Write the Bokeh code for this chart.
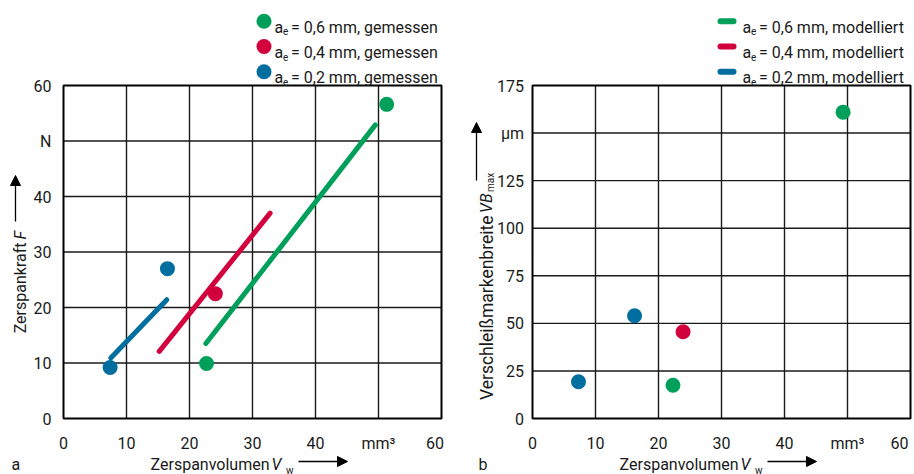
from bokeh.plotting import figure
from bokeh.layouts import row
from bokeh.models import Range1d, Label, Arrow, NormalHead
from bokeh.core.properties import value
from bokeh.embed import file_html
from bokeh.resources import INLINE

# ---------------- data ----------------
x_ticks = [0, 10, 20, 30, 40, 50, 60]
x_tick_overrides = {50: "mm³"}
F_ticks = [0, 10, 20, 30, 40, 50, 60]
F_tick_overrides = {50: "N"}
VB_ticks = [0, 25, 50, 75, 100, 125, 150, 175]
VB_tick_overrides = {150: "µm"}

series = ["0,6", "0,4", "0,2"]
colors = {"0,6": "#00a05a", "0,4": "#d2003c", "0,2": "#006e9e"}

# measured cutting force (panel a)
Vw_meas_F = {"0,6": [22.7, 51.3], "0,4": [24.1], "0,2": [7.4, 16.5]}
F_meas = {"0,6": [9.9, 56.6], "0,4": [22.5], "0,2": [9.2, 27.0]}
# modelled cutting force (panel a)
Vw_mod_F = {"0,6": [22.6, 49.5], "0,4": [15.2, 32.8], "0,2": [7.5, 16.4]}
F_mod = {"0,6": [13.5, 52.9], "0,4": [12.1, 37.0], "0,2": [10.9, 21.4]}
# measured flank wear (panel b)
Vw_meas_VB = {"0,6": [22.3, 49.3], "0,4": [23.9], "0,2": [7.3, 16.2]}
VB_meas = {"0,6": [17.5, 161.0], "0,4": [45.6], "0,2": [19.3, 54.0]}

FONT = "Roboto"
FS = "16px"
TXT = "#1a1a1a"
H = 474

# chart box in page pixels
BOX_TOP, BOX_BOTTOM = 85, 418


class Panel:
    def __init__(self, page_x0, width, box_left, y_end):
        self.box_left = box_left
        self.kx = 378 / 60.0
        self.ky = (BOX_BOTTOM - BOX_TOP) / y_end
        x0, _ = self.conv(page_x0, 0)
        x1, _ = self.conv(page_x0 + width, 0)
        _, y_top = self.conv(0, 0)
        _, y_bot = self.conv(0, H)
        self.p = figure(width=width, height=H, output_backend="svg", toolbar_location=None,
                        x_range=Range1d(x0, x1), y_range=Range1d(y_bot, y_top),
                        x_axis_location=None, y_axis_location=None,
                        min_border=0, min_border_left=0, min_border_right=0,
                        min_border_top=0, min_border_bottom=0,
                        background_fill_color="white", border_fill_color="white")
        self.p.outline_line_color = None
        self.p.grid.visible = False

    def conv(self, px, py):
        return (px - self.box_left) / self.kx, (BOX_BOTTOM - py) / self.ky

    def label(self, px, py, text, size=FS, align="left", baseline="alphabetic",
              angle=0, style="normal", color=TXT):
        x, y = self.conv(px, py)
        self.p.add_layout(Label(x=x, y=y, text=text, text_font=FONT, text_font_size=size,
                                text_color=color, text_align=align, text_baseline=baseline,
                                angle=angle, angle_units="deg", text_font_style=style))

    def arrow(self, p0, p1):
        x0, y0 = self.conv(*p0)
        x1, y1 = self.conv(*p1)
        self.p.add_layout(Arrow(x_start=x0, y_start=y0, x_end=x1, y_end=y1,
                                end=NormalHead(size=10, fill_color="black", line_color="black",
                                               line_width=1),
                                line_color="black", line_width=1.3))

    def frame_and_axes(self, y_ticks, y_over, ytick_right_px, last_x_right_px):
        p = self.p
        x_end, y_end = x_ticks[-1], y_ticks[-1]
        # grid lines
        p.multi_line(xs=[[t, t] for t in x_ticks[1:-1]], ys=[[0, y_end]] * (len(x_ticks) - 2),
                     line_color="#1a1a1a", line_width=1.4)
        p.multi_line(xs=[[0, x_end]] * (len(y_ticks) - 2), ys=[[t, t] for t in y_ticks[1:-1]],
                     line_color="#1a1a1a", line_width=1.4)
        # chart box
        p.quad(left=[0], right=[x_end], bottom=[0], top=[y_end], fill_color=None,
               line_color="black", line_width=2)
        # x tick labels (last one kept inside the canvas, right-aligned)
        _, y_lab = self.conv(0, 442.5)
        p.text(x=x_ticks[:-1], y=[y_lab] * (len(x_ticks) - 1),
               text=[x_tick_overrides.get(t, str(t)) for t in x_ticks[:-1]],
               text_align="center", text_baseline="alphabetic",
               text_font=value(FONT), text_font_size=FS, text_color=TXT)
        x_last, _ = self.conv(last_x_right_px, 0)
        p.text(x=[x_last], y=[y_lab], text=[x_tick_overrides.get(x_ticks[-1], str(x_ticks[-1]))],
               text_align="right", text_baseline="alphabetic",
               text_font=value(FONT), text_font_size=FS, text_color=TXT)
        # y tick labels
        x_lab, _ = self.conv(ytick_right_px, 0)
        p.text(x=[x_lab] * len(y_ticks), y=y_ticks,
               text=[y_over.get(t, str(t)) for t in y_ticks],
               text_align="right", text_baseline="middle",
               text_font=value(FONT), text_font_size=FS, text_color=TXT)


A = Panel(0, 468, 63, 60)
B = Panel(468, 444, 532, 175)

A.frame_and_axes(F_ticks, F_tick_overrides, 51, 443.5)
B.frame_and_axes(VB_ticks, VB_tick_overrides, 523.5, 908)

# ---------------- panel a data ----------------
for s in series:
    A.p.line(Vw_mod_F[s], F_mod[s], line_color=colors[s], line_width=5, line_cap="round")
for s in series:
    A.p.scatter(Vw_meas_F[s], F_meas[s], size=15, fill_color=colors[s], line_color=None)

# ---------------- panel b data ----------------
for s in series:
    B.p.scatter(Vw_meas_VB[s], VB_meas[s], size=15, fill_color=colors[s], line_color=None)

# ---------------- legends ----------------
rows_y = [20.7, 46.0, 71.3]
for s, yc in zip(series, rows_y):
    mx, my = A.conv(263.5, yc)
    A.p.scatter([mx], [my], size=15, fill_color=colors[s], line_color=None)
    A.label(274, yc + 6, "a")
    A.label(282.5, yc + 10, "e", size="10px")
    A.label(290.5, yc + 6, f"= {s} mm, gemessen")

    lx0, ly0 = B.conv(720, yc)
    lx1, _ = B.conv(733, yc)
    B.p.line([lx0, lx1], [ly0, ly0], line_color=colors[s], line_width=6, line_cap="round")
    B.label(742, yc + 6, "a")
    B.label(750.5, yc + 10, "e", size="10px")
    B.label(758.5, yc + 6, f"= {s} mm, modelliert")

# ---------------- axis titles ----------------
for P, dx in ((A, 0), (B, 469)):
    P.label(269 + dx, 463.5, "Zerspanvolumen", align="right")
    P.label(271 + dx, 463.5, "V", style="italic")
    P.label(285.5 + dx, 469.5, "w", size="10px")
    P.arrow((298 + dx, 461), (347 + dx, 461))

A.label(11, 464, "a")
B.label(478, 464, "b")

A.label(19.5, 242, "Zerspankraft", align="right", angle=90)
A.label(19.5, 239, "F", angle=90, style="italic")
A.arrow((15, 221), (15, 175))

B.label(486, 215, "Verschleißmarkenbreite", size="17.5px", align="right", angle=90)
B.label(486, 212.5, "VB", angle=90, style="italic")
B.label(489.5, 191.5, "max", size="10px", angle=90)
B.arrow((476, 180), (476, 122))

layout = row(A.p, B.p)
open("out.html", "w").write(file_html(layout, INLINE))
